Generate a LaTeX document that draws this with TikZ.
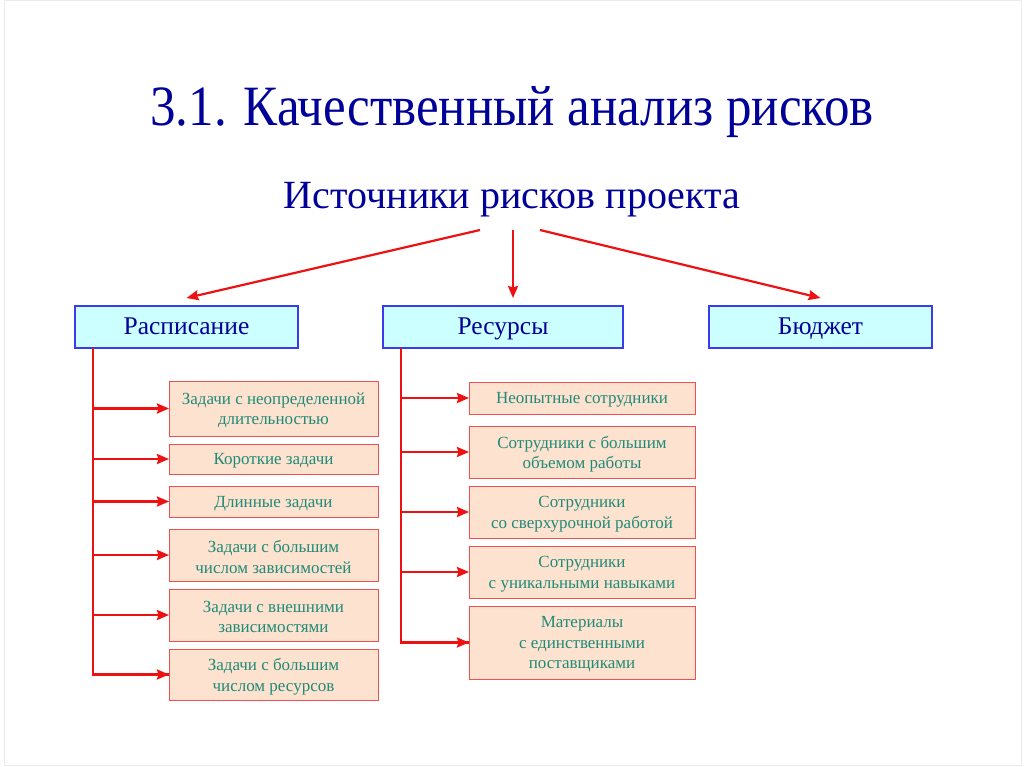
\documentclass[tikz,border=0pt]{standalone}
\usepackage{fontspec}
\setmainfont{Liberation Serif}
\newfontfamily\titlefont[FakeStretch=0.895]{Liberation Serif}
\usetikzlibrary{arrows.meta}
\definecolor{titleblue}{HTML}{000099}
\definecolor{boxblue}{HTML}{3A3AF0}
\definecolor{boxcyan}{HTML}{CCFFFF}
\definecolor{peach}{HTML}{FDE3CF}
\definecolor{peachedge}{HTML}{F05050}
\definecolor{tealtext}{HTML}{1F8A78}
\definecolor{arrowred}{HTML}{EE1111}
\tikzset{
  catbox/.style={draw=boxblue, fill=boxcyan, line width=1.2pt, anchor=north west,
    inner sep=0pt, outer sep=0pt, text=titleblue, text height=15pt, text depth=0pt,
    font=\fontsize{25.5}{30}\selectfont},
  itembox/.style={draw=peachedge, fill=peach, line width=1pt, anchor=north west,
    inner sep=0pt, outer sep=0pt},
  itemtext/.style={text=tealtext, align=center, inner sep=0pt, anchor=center,
    font=\fontsize{17}{20.5}\selectfont},
  redline/.style={draw=arrowred, line width=2.2pt},
  redarrow/.style={redline, -{Stealth[length=12pt,width=10pt,inset=1.5pt]}},
}
\newcommand\mybox[6]{%
  \node[itembox, minimum width=#4pt, minimum height=#5pt] (#1) at (#2,#3) {};
  \node[itemtext] (#1t) at ([yshift=-2pt]#1.center) {#6};}
\begin{document}
\begin{tikzpicture}[x=1pt,y=-1pt]
\useasboundingbox (0,0) rectangle (1024,767);
\fill[white] (0,0) rectangle (1024,767);
\draw[black!8, line width=1pt] (4,1) -- (1021,1) -- (1021,765) -- (4,765) -- cycle;

\node[text=titleblue, font=\titlefont\fontsize{57}{62}\selectfont, anchor=base] (title) at (512,126) {3.1. Качественный анализ рисков};
\node[text=titleblue, font=\fontsize{40}{44}\selectfont, anchor=base] (sub) at (512,209) {Источники рисков проекта};

\node[catbox, minimum width=223pt, minimum height=42pt] (ras) at (75,306) {Расписание};
\node[catbox, minimum width=240pt, minimum height=42pt] (res) at (383,306) {Ресурсы};
\node[catbox, minimum width=223pt, minimum height=42pt] (bud) at (709,306) {Бюджет};

\coordinate (s1) at (480,230);
\coordinate (s2) at (513,230);
\coordinate (s3) at (540,230);
\draw[redarrow] (s1) -- ([yshift=8pt]ras.north);
\draw[redarrow] (s2) -- ([yshift=8pt]res.north -| s2);
\draw[redarrow] (s3) -- ([yshift=8pt]bud.north);

% left column
\mybox{l1}{169}{381}{209}{55}{Задачи с неопределенной\\длительностью}
\mybox{l2}{169}{444}{209}{30}{Короткие задачи}
\mybox{l3}{169}{486}{209}{31}{Длинные задачи}
\mybox{l4}{169}{529}{209}{52}{Задачи с большим\\числом зависимостей}
\mybox{l5}{169}{589}{209}{52}{Задачи с внешними\\зависимостями}
\mybox{l6}{169}{649}{209}{51}{Задачи с большим\\числом ресурсов}

\coordinate (lt) at ([xshift=18pt]ras.south west);
\draw[redline] (lt) |- (l6.west);
\foreach \n in {l1,l2,l3,l4,l5,l6}
  \draw[redarrow] (lt |- \n.west) -- (\n.west);

% right column
\mybox{r1}{469}{382}{226}{32}{Неопытные сотрудники}
\mybox{r2}{469}{426}{226}{52}{Сотрудники с большим\\объемом работы}
\mybox{r3}{469}{486}{226}{52}{Сотрудники\\со сверхурочной работой}
\mybox{r4}{469}{546}{226}{52}{Сотрудники\\с уникальными навыками}
\mybox{r5}{469}{606}{226}{73}{Материалы\\с единственными\\поставщиками}

\coordinate (rt) at ([xshift=18pt]res.south west);
\draw[redline] (rt) |- (r5.west);
\foreach \n in {r1,r2,r3,r4,r5}
  \draw[redarrow] (rt |- \n.west) -- (\n.west);
\end{tikzpicture}
\end{document}
